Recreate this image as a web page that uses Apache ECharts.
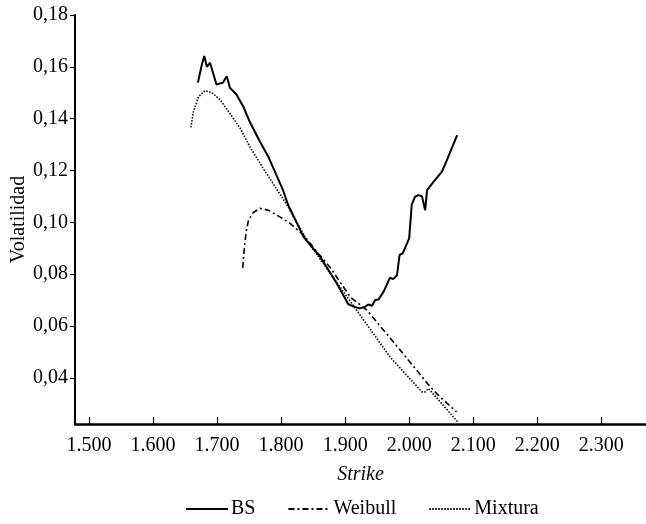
<!DOCTYPE html>
<html>
<head>
<meta charset="utf-8">
<script src="https://cdn.jsdelivr.net/npm/echarts@6/dist/echarts.min.js"></script>
<style>
  html, body { margin: 0; padding: 0; background: #ffffff; }
  #chart { width: 646px; height: 524px; }
</style>
</head>
<body>
<div id="chart"></div>
<script>
  // datos
  var bsStrike = [1670, 1676, 1680, 1684, 1689, 1699, 1709, 1715, 1720, 1730, 1741, 1751, 1767, 1780, 1788, 1803, 1811, 1835, 1861, 1887, 1905, 1915, 1923, 1931, 1936, 1942, 1947, 1952, 1960, 1970, 1975, 1981, 1985, 1990, 2000, 2004, 2009, 2014, 2020, 2025, 2028, 2038, 2051, 2059, 2075];
  var bsVol = [0.1539, 0.1607, 0.1642, 0.1600, 0.1616, 0.1532, 0.1539, 0.1564, 0.1519, 0.1494, 0.1446, 0.1388, 0.1311, 0.1253, 0.1208, 0.1124, 0.1067, 0.0944, 0.0867, 0.0764, 0.0684, 0.0674, 0.0668, 0.0674, 0.0683, 0.0678, 0.0700, 0.0702, 0.0732, 0.0787, 0.0781, 0.0796, 0.0874, 0.0880, 0.0938, 0.1067, 0.1098, 0.1105, 0.1101, 0.1047, 0.1124, 0.1156, 0.1195, 0.1240, 0.1337];

  var weibullStrike = [1740, 1742, 1745, 1749, 1756, 1767, 1780, 1798, 1814, 1835, 1858, 1876, 1908, 1934, 1986, 2033, 2048, 2074];
  var weibullVol = [0.0824, 0.0886, 0.0957, 0.1009, 0.1037, 0.1054, 0.1047, 0.1021, 0.0996, 0.0951, 0.0880, 0.0828, 0.0712, 0.0661, 0.0507, 0.0365, 0.0327, 0.0269];

  var mixStrike = [1659, 1663, 1671, 1681, 1692, 1705, 1720, 1736, 1751, 1772, 1811, 1840, 1892, 1918, 1970, 2020, 2025, 2030, 2038, 2077];
  var mixVol = [0.1366, 0.1427, 0.1485, 0.1508, 0.1500, 0.1472, 0.1420, 0.1363, 0.1292, 0.1208, 0.1060, 0.0931, 0.0751, 0.0661, 0.0481, 0.0346, 0.0346, 0.0359, 0.0337, 0.0227];

  var xTicks = [1500, 1600, 1700, 1800, 1900, 2000, 2100, 2200, 2300];
  var yTicks = [0.04, 0.06, 0.08, 0.10, 0.12, 0.14, 0.16, 0.18];

  function pares(xs, ys) {
    return xs.map(function (x, i) { return [x, ys[i]]; });
  }

  var fuente = '"Liberation Serif", "DejaVu Serif", serif';
  var tam = 20;
  var chart = echarts.init(document.getElementById('chart'));

  chart.setOption({
    animation: false,
    backgroundColor: '#ffffff',
    textStyle: { fontFamily: fuente, color: '#000' },
    grid: { left: 75, right: 0, top: 15, bottom: 100, containLabel: false, outerBoundsMode: 'none' },
    legend: {
      bottom: 0,
      left: 180,
      itemWidth: 42,
      itemHeight: 10,
      itemGap: 32,
      itemStyle: { color: 'rgba(0,0,0,0)', borderWidth: 0 },
      textStyle: { fontFamily: fuente, fontSize: tam, color: '#000', padding: [0, 0, 0, -2] },
      data: ['BS', 'Weibull', 'Mixtura']
    },
    xAxis: {
      type: 'value',
      min: 1478,
      max: 2370,
      name: 'Strike',
      nameLocation: 'middle',
      nameGap: 41,
      nameMoveOverlap: false,
      nameTextStyle: { fontFamily: fuente, fontSize: tam, fontStyle: 'italic', color: '#000' },
      axisLine: { lineStyle: { color: '#000', width: 2.5 } },
      axisTick: { inside: true, length: 7, customValues: xTicks, lineStyle: { color: '#000', width: 1.2 } },
      axisLabel: {
        customValues: xTicks,
        fontFamily: fuente, fontSize: tam, color: '#000', margin: 12,
        formatter: function (v) { return (v / 1000).toFixed(3); }
      },
      splitLine: { show: false }
    },
    yAxis: {
      type: 'value',
      min: 0.0222,
      max: 0.18,
      name: 'Volatilidad',
      nameLocation: 'middle',
      nameGap: 46,
      nameMoveOverlap: false,
      nameTextStyle: { fontFamily: fuente, fontSize: tam, color: '#000' },
      axisLine: { show: true, lineStyle: { color: '#000', width: 2 } },
      axisTick: { show: true, length: 5, customValues: yTicks, lineStyle: { color: '#000', width: 1.2 } },
      axisLabel: {
        customValues: yTicks,
        fontFamily: fuente, fontSize: tam, color: '#000', margin: 7,
        formatter: function (v) { return v.toFixed(2).replace('.', ','); }
      },
      splitLine: { show: false }
    },
    series: [
      {
        name: 'BS',
        type: 'line',
        symbol: 'none',
        data: pares(bsStrike, bsVol),
        lineStyle: { color: '#000', width: 2, type: 'solid' },
        itemStyle: { color: '#000' }
      },
      {
        name: 'Weibull',
        type: 'line',
        symbol: 'none',
        data: pares(weibullStrike, weibullVol),
        lineStyle: { color: '#000', width: 1.6, type: [6, 3, 2, 3] },
        itemStyle: { color: '#000' }
      },
      {
        name: 'Mixtura',
        type: 'line',
        symbol: 'none',
        data: pares(mixStrike, mixVol),
        lineStyle: { color: '#000', width: 1.6, type: [1.5, 1.5] },
        itemStyle: { color: '#000' }
      }
    ]
  });
</script>
</body>
</html>
